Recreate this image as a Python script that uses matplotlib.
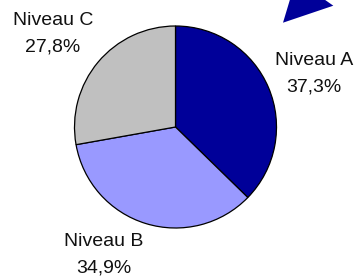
import matplotlib
matplotlib.use('Agg')
import matplotlib.pyplot as plt
from matplotlib.patches import Polygon

categories = ['Niveau A', 'Niveau B', 'Niveau C']
shares = [37.3, 34.9, 27.8]
colors = ['#000099', '#9999FF', '#C0C0C0']

W, H = 356, 280
fig = plt.figure(figsize=(W / 100, H / 100), dpi=100)
ax = fig.add_axes([0, 0, 1, 1])
cx, cy, R = 175.5, H - 127, 101
wedges, _ = ax.pie(shares, colors=colors, startangle=90, counterclock=False,
                   center=(cx, cy), radius=R,
                   wedgeprops=dict(edgecolor='black', linewidth=0.9))
ax.set_xlim(0, W)
ax.set_ylim(0, H)
ax.set_aspect('equal')
ax.axis('off')

# label centres in pixel coords (y from top)
label_xy = [(314, 74), (104, 255), (53, 34)]
for cat, v, (lx, ly) in zip(categories, shares, label_xy):
    txt = f"{cat}\n{v:.1f}%".replace('.', ',')
    ax.text(lx, H - ly, txt, ha='center', va='center', fontsize=14,
            family='Liberation Sans', linespacing=1.7, color='#111111')

# decorative triangle (partially outside the figure)
tri = Polygon([(283, H - 22.7), (333.3, H - 5.7), (296, H + 20.5)],
              closed=True, facecolor='#000099', edgecolor='none', clip_on=False)
ax.add_patch(tri)

fig.savefig('out.png', dpi=100)
